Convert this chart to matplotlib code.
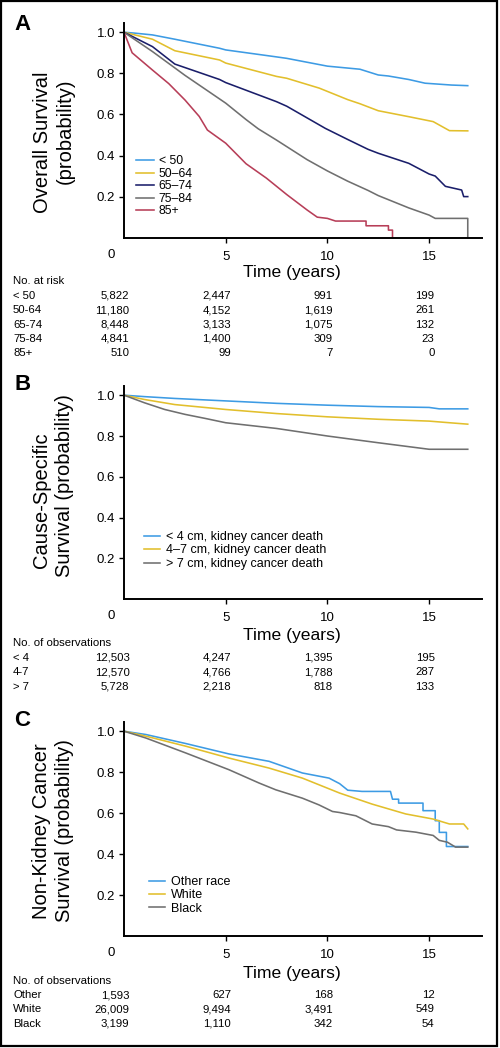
import matplotlib
matplotlib.use("Agg")
import matplotlib.pyplot as plt
import matplotlib.patches as mpatches
from matplotlib.transforms import blended_transform_factory

plt.rcParams["font.family"] = ["Liberation Sans", "DejaVu Sans"]

W, H = 500, 1048

# ---- Panel A: overall survival by age ----
a_labels = ["< 50", "50\u201364", "65\u201374", "75\u201384", "85+"]
a_colors = ["#3d9be4", "#e2bf2c", "#1a1e6a", "#6f6f6f", "#b73e58"]

a_lt50_t = [0, 0.5, 1.4, 2.5, 4.7, 5, 7.5, 8, 10, 11.6, 12.5, 13, 14, 14.8, 16.1, 16.9]
a_lt50_s = [1.0, 0.996, 0.987, 0.966, 0.922, 0.914, 0.88, 0.873, 0.835, 0.82, 0.792, 0.787, 0.77, 0.752, 0.743, 0.74]
a_5064_t = [0, 1.4, 2.5, 4.7, 5, 7.5, 8, 9.6, 10, 11, 11.6, 12.5, 14, 15.2, 16.0, 16.9]
a_5064_s = [1.0, 0.966, 0.91, 0.865, 0.85, 0.785, 0.776, 0.728, 0.712, 0.672, 0.652, 0.618, 0.589, 0.565, 0.521, 0.52]
a_6574_t = [0, 1.4, 2.5, 4.7, 5, 7.5, 8, 9.9, 11, 12, 12.5, 14, 15, 15.3, 15.8, 16.6, 16.7, 16.9]
a_6574_s = [1.0, 0.93, 0.845, 0.77, 0.755, 0.662, 0.64, 0.532, 0.478, 0.43, 0.411, 0.362, 0.31, 0.30, 0.25, 0.232, 0.20, 0.20]
a_7584_t = [0, 1.4, 3.0, 5, 6, 6.6, 7.5, 9, 10, 11, 12, 12.5, 13, 14, 15, 15.3, 16.9, 16.9]
a_7584_s = [1.0, 0.906, 0.79, 0.655, 0.575, 0.53, 0.475, 0.38, 0.325, 0.275, 0.23, 0.205, 0.185, 0.145, 0.11, 0.094, 0.094, 0.0]
a_85_t = [0, 0.4, 1.4, 2.2, 3.0, 3.7, 4.1, 5, 6, 7, 8, 9, 9.5, 10, 10.4, 11.9, 11.9, 13.0, 13.0, 13.2, 13.2]
a_85_s = [1.0, 0.90, 0.816, 0.75, 0.67, 0.59, 0.524, 0.46, 0.36, 0.29, 0.21, 0.135, 0.10, 0.094, 0.081, 0.081, 0.058, 0.058, 0.037, 0.037, 0.0]

a_risk_names = ["< 50", "50-64", "65-74", "75-84", "85+"]
a_risk = [["5,822", "2,447", "991", "199"],
          ["11,180", "4,152", "1,619", "261"],
          ["8,448", "3,133", "1,075", "132"],
          ["4,841", "1,400", "309", "23"],
          ["510", "99", "7", "0"]]

# ---- Panel B: cause-specific survival by tumour size ----
b_labels = ["< 4 cm, kidney cancer death", "4\u20137 cm, kidney cancer death", "> 7 cm, kidney cancer death"]
b_colors = ["#3d9be4", "#e2bf2c", "#6f6f6f"]
b_lt4_t = [0, 1, 2.5, 5, 7.5, 10, 12.5, 15, 15.5, 16.9]
b_lt4_s = [1.0, 0.993, 0.984, 0.972, 0.96, 0.951, 0.944, 0.94, 0.933, 0.933]
b_47_t = [0, 1, 2.5, 5, 7.5, 10, 12.5, 15, 16, 16.9]
b_47_s = [1.0, 0.979, 0.954, 0.93, 0.91, 0.894, 0.882, 0.873, 0.865, 0.858]
b_gt7_t = [0, 1, 2, 3, 4, 5, 7.5, 10, 12.5, 15, 16.9]
b_gt7_s = [1.0, 0.963, 0.93, 0.906, 0.886, 0.865, 0.837, 0.80, 0.767, 0.735, 0.735]

b_obs_names = ["< 4", "4-7", "> 7"]
b_obs = [["12,503", "4,247", "1,395", "195"],
         ["12,570", "4,766", "1,788", "287"],
         ["5,728", "2,218", "818", "133"]]

# ---- Panel C: non-kidney cancer survival by race ----
c_labels = ["Other race", "White", "Black"]
c_colors = ["#3d9be4", "#e2bf2c", "#6f6f6f"]
c_oth_t = [0, 1.07, 3.03, 5.16, 7.13, 8.77, 10.08, 10.6, 11.0, 11.7, 13.1, 13.2, 13.5, 13.5, 14.7, 14.7, 15.3, 15.3, 15.5, 15.5, 15.85, 15.85, 16.9]
c_oth_s = [1.0, 0.984, 0.94, 0.889, 0.853, 0.796, 0.771, 0.744, 0.712, 0.706, 0.706, 0.668, 0.668, 0.649, 0.649, 0.612, 0.612, 0.563, 0.563, 0.506, 0.506, 0.437, 0.437]
c_wht_t = [0, 1.07, 3.03, 5.16, 7.13, 8.77, 10.6, 12.2, 13.85, 15.2, 16.0, 16.7, 16.9]
c_wht_s = [1.0, 0.976, 0.927, 0.869, 0.82, 0.771, 0.698, 0.644, 0.596, 0.571, 0.547, 0.547, 0.523]
c_blk_t = [0, 1.07, 3.03, 5.16, 6.64, 7.46, 8.77, 9.59, 10.25, 10.6, 11.4, 12.2, 13.0, 13.4, 14.35, 15.2, 15.5, 15.9, 16.3, 16.9]
c_blk_s = [1.0, 0.967, 0.894, 0.812, 0.747, 0.714, 0.673, 0.64, 0.608, 0.603, 0.587, 0.547, 0.534, 0.518, 0.507, 0.491, 0.467, 0.458, 0.434, 0.434]

c_obs_names = ["Other", "White", "Black"]
c_obs = [["1,593", "627", "168", "12"],
         ["26,009", "9,494", "3,491", "549"],
         ["3,199", "1,110", "342", "54"]]

table_times = [0, 5, 10, 15]

fig = plt.figure(figsize=(W / 100, H / 100), dpi=100)


def fx(px):
    return px / W


def fy(py):
    return 1 - py / H


def make_axes(top_px, bottom_px):
    left, right = 124, 482
    ax = fig.add_axes([fx(left), fy(bottom_px), (right - left) / W, (bottom_px - top_px) / H])
    ax.set_xlim(0, 17.6)
    ax.set_ylim(0, 1.045)
    ax.set_yticks([0.2, 0.4, 0.6, 0.8, 1.0])
    ax.set_yticklabels(["0.2", "0.4", "0.6", "0.8", "1.0"])
    ax.set_xticks([5, 10, 15])
    ax.tick_params(axis="both", labelsize=9.5, length=3.5, width=1.0, direction="out")
    ax.tick_params(axis="y", pad=3)
    ax.tick_params(axis="x", pad=6)
    for s in ["top", "right"]:
        ax.spines[s].set_visible(False)
    for s in ["left", "bottom"]:
        ax.spines[s].set_linewidth(1.4)
    # origin label sits left of the axis corner, level with the other x labels
    tr = blended_transform_factory(ax.transData, fig.transFigure)
    ax.text(-0.63, fy(bottom_px + 17), "0", transform=tr, ha="center", va="center", fontsize=9.5)
    return ax


def risk_table(ax, header, y_header, names, rows, y_first, dy):
    tr = blended_transform_factory(ax.transData, fig.transFigure)
    fig.text(fx(13), fy(y_header), header, ha="left", va="center", fontsize=8.2)
    for i, (name, row) in enumerate(zip(names, rows)):
        y = fy(y_first + i * dy)
        fig.text(fx(13), y, name, ha="left", va="center", fontsize=8.2)
        for t, val in zip(table_times, row):
            ax.text(t + 0.27, y, val, transform=tr, ha="right", va="center", fontsize=8.2)


def ylabel(lines, xs, ys):
    for txt, x, y in zip(lines, xs, ys):
        fig.text(fx(x), fy(y), txt, rotation=90, ha="center", va="center", fontsize=14.5)


# Panel A
axA = make_axes(23, 237.7)
for t, s, c, lab in zip([a_lt50_t, a_5064_t, a_6574_t, a_7584_t, a_85_t],
                        [a_lt50_s, a_5064_s, a_6574_s, a_7584_s, a_85_s],
                        a_colors, a_labels):
    axA.plot(t, s, color=c, lw=1.15, label=lab)
axA.legend(loc="upper left", bbox_to_anchor=(fx(136), fy(155.5)), bbox_transform=fig.transFigure,
           frameon=False, fontsize=8.8, handlelength=1.5, handletextpad=0.35,
           labelspacing=0.04, borderpad=0, borderaxespad=0)
fig.text(fx(292), fy(272), "Time (years)", ha="center", va="center", fontsize=12.6)
fig.text(fx(14), fy(24), "A", ha="left", va="center", fontsize=16, fontweight="bold")
ylabel(["Overall Survival", "(probability)"], [42, 65], [142, 131])
risk_table(axA, "No. at risk", 281, a_risk_names, a_risk, 295.7, 14.4)

# Panel B
axB = make_axes(386, 599.3)
for t, s, c, lab in zip([b_lt4_t, b_47_t, b_gt7_t], [b_lt4_s, b_47_s, b_gt7_s], b_colors, b_labels):
    axB.plot(t, s, color=c, lw=1.15, label=lab)
axB.legend(loc="upper left", bbox_to_anchor=(fx(144), fy(531)), bbox_transform=fig.transFigure,
           frameon=False, fontsize=9, handlelength=1.3, handletextpad=0.45,
           labelspacing=0.12, borderpad=0, borderaxespad=0)
fig.text(fx(292), fy(635.7), "Time (years)", ha="center", va="center", fontsize=12.6)
fig.text(fx(14), fy(385), "B", ha="left", va="center", fontsize=16, fontweight="bold")
ylabel(["Cause-Specific", "Survival (probability)"], [42, 65], [500, 486])
risk_table(axB, "No. of observations", 643, b_obs_names, b_obs, 657.7, 14.5)

# Panel C
axC = make_axes(722, 936)
for t, s, c, lab in zip([c_oth_t, c_wht_t, c_blk_t], [c_oth_s, c_wht_s, c_blk_s], c_colors, c_labels):
    axC.plot(t, s, color=c, lw=1.15, label=lab)
axC.legend(loc="upper left", bbox_to_anchor=(fx(149), fy(876)), bbox_transform=fig.transFigure,
           frameon=False, fontsize=9, handlelength=1.3, handletextpad=0.45,
           labelspacing=0.1, borderpad=0, borderaxespad=0)
fig.text(fx(292), fy(973.3), "Time (years)", ha="center", va="center", fontsize=12.6)
fig.text(fx(14), fy(721), "C", ha="left", va="center", fontsize=16, fontweight="bold")
ylabel(["Non-Kidney Cancer", "Survival (probability)"], [42, 65], [831, 831])
risk_table(axC, "No. of observations", 980.7, c_obs_names, c_obs, 995, 14.5)

# outer frame
fig.patches.append(mpatches.Rectangle((fx(1), fy(1046)), fx(496), 1045 / H, transform=fig.transFigure,
                                      fill=False, edgecolor="black", linewidth=1.6))

fig.savefig("out.png", dpi=100)
